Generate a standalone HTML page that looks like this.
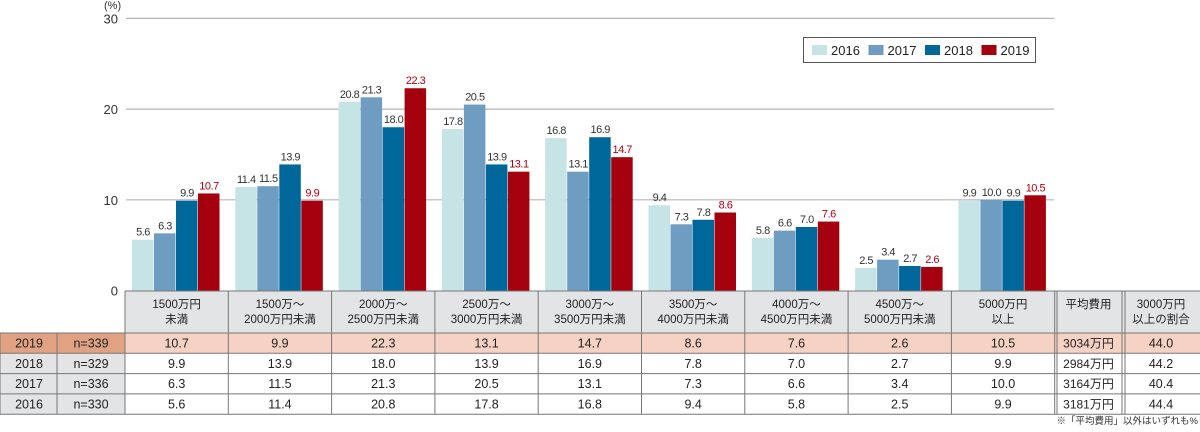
<!DOCTYPE html>
<html><head><meta charset="utf-8">
<style>
body{margin:0;background:#fff;width:1200px;height:427px;overflow:hidden;font-family:"Liberation Sans","Noto Sans CJK JP",sans-serif}
svg text{font-family:"Liberation Sans","Noto Sans CJK JP",sans-serif}
</style></head><body>
<svg id="c" width="1200" height="427" viewBox="0 0 1200 427" xmlns="http://www.w3.org/2000/svg"></svg>
<script>
const categories=[["1500万円","未満"],["1500万～","2000万円未満"],["2000万～","2500万円未満"],["2500万～","3000万円未満"],["3000万～","3500万円未満"],["3500万～","4000万円未満"],["4000万～","4500万円未満"],["4500万～","5000万円未満"],["5000万円","以上"]];
const years=["2016","2017","2018","2019"];
const v2016=[5.6,11.4,20.8,17.8,16.8,9.4,5.8,2.5,9.9];
const v2017=[6.3,11.5,21.3,20.5,13.1,7.3,6.6,3.4,10.0];
const v2018=[9.9,13.9,18.0,13.9,16.9,7.8,7.0,2.7,9.9];
const v2019=[10.7,9.9,22.3,13.1,14.7,8.6,7.6,2.6,10.5];
const sampleN=["n=330","n=336","n=329","n=339"];
const avgCost=["3181万円","3164万円","2984万円","3034万円"];
const over3000=["44.4","40.4","44.2","44.0"];
const yTicks=[0,10,20,30];

const colors=["#c6e3e5","#6f9cc1","#00679b","#a5000d"];
const series=[v2016,v2017,v2018,v2019];
const svg=document.getElementById('c');
const NS="http://www.w3.org/2000/svg";
function el(t,a,txt){const e=document.createElementNS(NS,t);for(const k in a)e.setAttribute(k,a[k]);if(txt!==undefined)e.textContent=txt;svg.appendChild(e);return e;}
const y0=290.5,pxu=9.07;
const yS=v=>y0-v*pxu;
const colX=i=>125+i*103.3;
const colW=103.3;

// gridlines
yTicks.forEach(t=>{
 if(t>0){const g=el('line',{x1:126,x2:1054,y1:yS(t),y2:yS(t),stroke:'#b5b5b5','stroke-width':1.2});
 }
 const tx=el('text',{x:118,y:yS(t)+5,'text-anchor':'end','font-size':13,fill:'#333'},String(t));
 
});
const unit=el('text',{x:104,y:9,'font-size':11,fill:'#333'},'(%)');


// bars
categories.forEach((c,i)=>{
 series.forEach((s,k)=>{
  const x=colX(i)+7+k*22;
  const r=el('rect',{x:x,y:yS(s[i]),width:21.5,height:s[i]*pxu,fill:colors[k]});
  
  const l=el('text',{x:x+11,y:yS(s[i])-4,'text-anchor':'middle','font-size':11,'letter-spacing':'-0.5',fill:k==3?'#b00010':'#333'},s[i].toFixed(1));
  
 });
});

// legend
const lg=el('rect',{x:803.5,y:37.5,width:232,height:25,fill:'#fff',stroke:'#555','stroke-width':1});

years.forEach((yr,k)=>{
 const x=812+k*56.5;
 const s=el('rect',{x:x,y:45,width:15,height:10,fill:colors[k]});
 
 const t=el('text',{x:x+19,y:55,'font-size':13,fill:'#222'},yr);
 
});

// table
const hTop=291,hBot=333,rowH=20.3;
const hdr=el('rect',{x:125,y:hTop,width:1075,height:hBot-hTop,fill:'#e3e4e5'});

categories.forEach((c,i)=>{
 const cx=colX(i)+colW/2;
 const t1=el('text',{x:cx,y:hTop+17,'text-anchor':'middle','font-size':11.5,fill:'#222'},c[0]);
 
 const t2=el('text',{x:cx,y:hTop+32,'text-anchor':'middle','font-size':11.5,fill:'#222'},c[1]);
 
});
const extraX=[1055,1122,1200];
[["平均費用",""],["3000万円","以上の割合"]].forEach((h,j)=>{
 const cx=(extraX[j]+extraX[j+1])/2;
 const a=el('text',{x:cx,y:hTop+17,'text-anchor':'middle','font-size':11.5,fill:'#222'},h[0]);
 
 if(h[1]){const b=el('text',{x:cx,y:hTop+32,'text-anchor':'middle','font-size':11.5,fill:'#222'},h[1]);
 }
});
// rows: 2019 first
for(let r=0;r<4;r++){
 const k=3-r;const yT=hBot+r*rowH;
 const bg=el('rect',{x:0,y:yT,width:1200,height:rowH,fill:k==3?'#f5d2c3':'#fff'});
 
 const lb=el('rect',{x:0,y:yT,width:125,height:rowH,fill:k==3?'#e0a283':'#e3e4e5'});
 
 const ty=yT+14.5;
 const a=el('text',{x:29,y:ty,'text-anchor':'middle','font-size':12.5,fill:'#222'},years[k]);
 
 const b=el('text',{x:91,y:ty,'text-anchor':'middle','font-size':12.5,fill:'#222'},sampleN[k]);
 
 categories.forEach((c,i)=>{
  const t=el('text',{x:colX(i)+colW/2,y:ty,'text-anchor':'middle','font-size':12.5,fill:'#222'},series[k][i].toFixed(1));
  
 });
 const c1=el('text',{x:1088.5,y:ty,'text-anchor':'middle','font-size':12,fill:'#222'},avgCost[k]);
 
 const c2=el('text',{x:1161,y:ty,'text-anchor':'middle','font-size':12.5,fill:'#222'},over3000[k]);
 
}
// grid lines of table
const lines=[];
for(let r=0;r<=4;r++)lines.push([0,hBot+r*rowH,1200,hBot+r*rowH]);
lines.push([125,hTop,1200,hTop]);
for(let i=0;i<=9;i++)lines.push([colX(i),hTop,colX(i),hBot+4*rowH]);
lines.push([1122,hTop,1122,hBot+4*rowH]);lines.push([1057,hTop,1057,hBot+4*rowH]);lines.push([1125,hTop,1125,hBot+4*rowH]);
lines.push([57,hBot,57,hBot+4*rowH]);lines.push([0,hBot,0,hBot+4*rowH]);
lines.forEach(l=>{el('line',{x1:l[0],y1:l[1],x2:l[2],y2:l[3],stroke:'#777','stroke-width':1});});
const fn=el('text',{x:1198,y:424,'text-anchor':'end','font-size':9.5,fill:'#333'},'※「平均費用」以外はいずれも%');

</script>
</body></html>
